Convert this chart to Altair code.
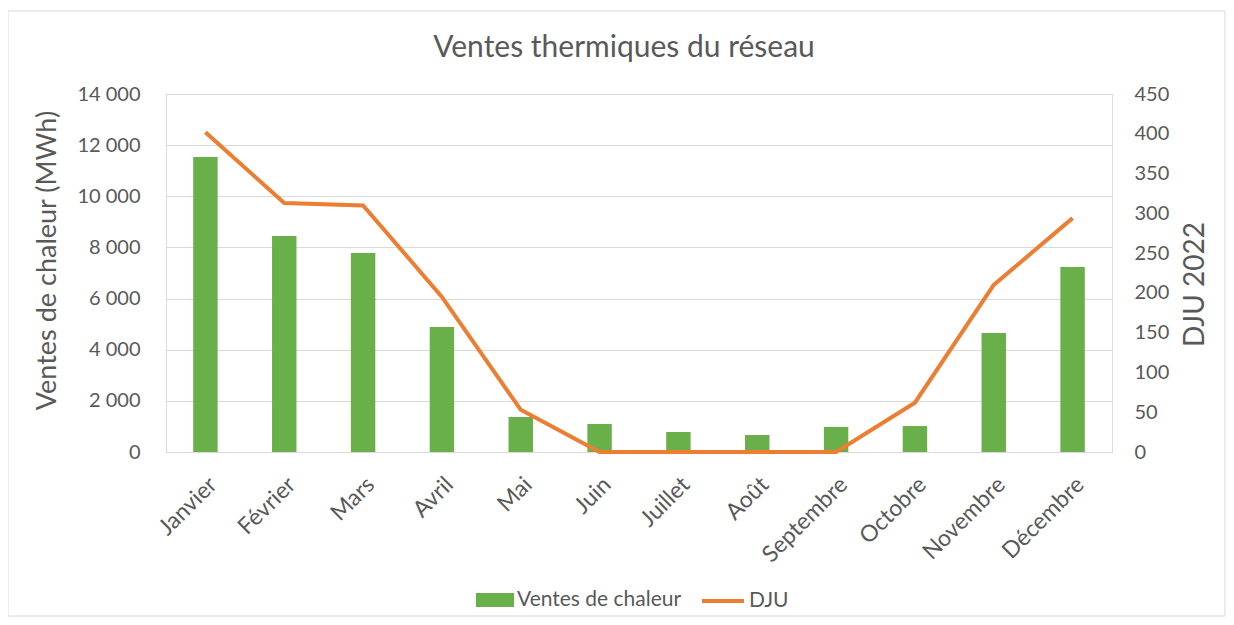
import altair as alt
import pandas as pd

mois = ["Janvier", "Février", "Mars", "Avril", "Mai", "Juin", "Juillet",
        "Août", "Septembre", "Octobre", "Novembre", "Décembre"]
ventes = [11540, 8450, 7780, 4890, 1370, 1095, 780, 665, 980, 1015, 4650, 7235]
dju = [402, 313, 310, 195, 53, 0, 0, 0, 0, 62, 210, 294]
left_ticks = [0, 2000, 4000, 6000, 8000, 10000, 12000, 14000]
right_ticks = [0, 50, 100, 150, 200, 250, 300, 350, 400, 450]

df = pd.DataFrame({"Mois": mois, "Ventes": ventes, "DJU": dju})

FONT = "Lato"
GRAY = "#595959"
GRID = "#d9d9d9"
GREEN = "#6ab04a"
ORANGE = "#ed7d31"

W, H = 946, 358

xenc = alt.X("Mois:N", sort=mois, title=None,
             scale=alt.Scale(paddingInner=0.69, paddingOuter=0.345),
             axis=alt.Axis(labelAngle=-45, labelFontSize=23, labelFont=FONT,
                           labelColor=GRAY, ticks=False, domainColor=GRID,
                           labelPadding=21))

base = alt.Chart(df)

bars = base.transform_calculate(serie="'Ventes de chaleur'").mark_bar().encode(
    x=xenc,
    y=alt.Y("Ventes:Q", scale=alt.Scale(domain=[0, 14000]),
            title="Ventes de chaleur (MWh)",
            axis=alt.Axis(values=left_ticks, grid=True, gridColor=GRID,
                          domain=False, ticks=False, labelFontSize=20,
                          labelFont=FONT, labelColor=GRAY, labelPadding=26,
                          labelExpr="replace(format(datum.value, ','), ',', ' ')",
                          titleFontSize=27, titleFont=FONT, titleColor=GRAY,
                          titleFontWeight="normal", titlePadding=15, titleY=166)),
    color=alt.Color("serie:N", scale=alt.Scale(domain=["Ventes de chaleur"], range=[GREEN]),
                    legend=alt.Legend(title=None, orient="none", legendX=310, legendY=487,
                                      symbolType="M-1,-0.37H1V0.37H-1Z", symbolSize=1444,
                                      symbolStrokeWidth=0, symbolOpacity=1, labelLimit=400,
                                      labelFontSize=21, labelFont=FONT, labelColor=GRAY,
                                      labelOffset=3)),
)

line = base.transform_calculate(serie="'DJU'").mark_line(strokeWidth=4, color=ORANGE).encode(
    x=xenc,
    y=alt.Y("DJU:Q", scale=alt.Scale(domain=[0, 450]), title="DJU 2022",
            axis=alt.Axis(orient="right", values=right_ticks, grid=False,
                          domain=False, ticks=False, labelFontSize=20,
                          labelFont=FONT, labelColor=GRAY, labelPadding=22,
                          titleFontSize=28, titleFont=FONT, titleColor=GRAY,
                          titleFontWeight="normal", titleAngle=270, titlePadding=41,
                          titleY=190)),
    stroke=alt.Stroke("serie:N", scale=alt.Scale(domain=["DJU"], range=[ORANGE]),
                      legend=alt.Legend(title=None, orient="none", legendX=534, legendY=484,
                                        symbolType="stroke", symbolSize=1764,
                                        symbolStrokeWidth=4, labelLimit=400,
                                        labelFontSize=21, labelFont=FONT, labelColor=GRAY,
                                        labelOffset=3)),
)

frame = alt.Chart(pd.DataFrame({"a": [0]})).mark_rect(
    fill=None, stroke=GRID, strokeWidth=1
).encode(x=alt.value(-158), x2=alt.value(1059), y=alt.value(-83), y2=alt.value(522))

chart = alt.layer(frame, bars, line).resolve_scale(
    y="independent", color="independent", stroke="independent"
).properties(
    width=W, height=H,
    title=alt.TitleParams("Ventes thermiques du réseau", fontSize=30, font=FONT,
                          color=GRAY, fontWeight="normal", anchor="middle",
                          frame="group", offset=-52, dx=-15),
    autosize=alt.AutoSizeParams(type="none"),
    padding={"left": 158, "top": 86, "right": 114, "bottom": 165},
).configure_view(stroke=None).configure(background="white")

chart.save("out.html", embed_options={"renderer": "svg", "actions": False})
